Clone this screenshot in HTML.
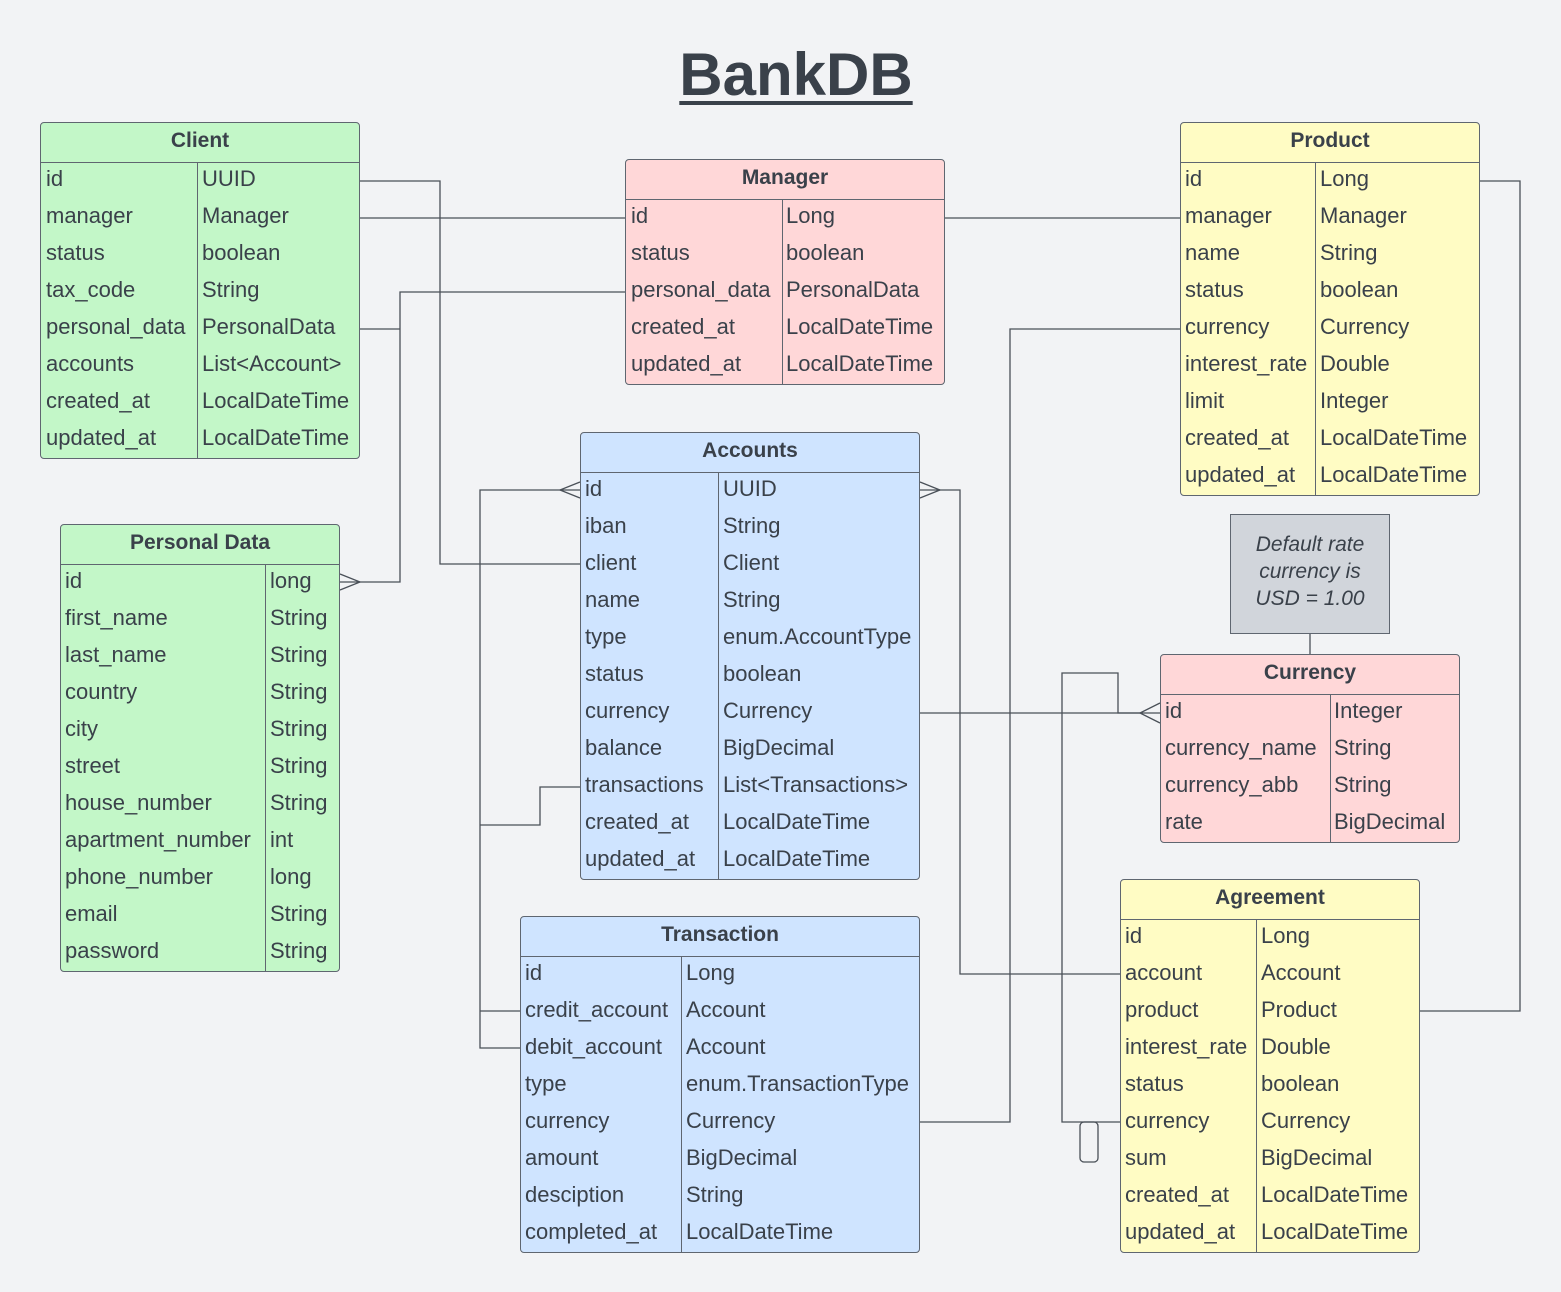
<!DOCTYPE html>
<html><head><meta charset="utf-8"><style>
body{margin:0;width:1561px;height:1292px;background:#f2f3f5;position:relative;overflow:hidden;font-family:"Liberation Sans",sans-serif;color:#3a414a}
.t{position:absolute;border:1px solid #5f6670;border-radius:4px;box-sizing:border-box;overflow:hidden}
.h{height:40px;line-height:35px;text-align:center;font-weight:bold;font-size:21px;border-bottom:1px solid #5f6670;box-sizing:border-box}
.r{height:37px;line-height:31px;font-size:22px;position:relative;white-space:nowrap}
.r span{position:absolute;top:0}
.d{position:absolute;top:40px;bottom:0;width:1px;background:#5f6670}
.g{background:#c3f7c8}.p{background:#ffd7d8}.y{background:#fffcc4}.b{background:#cfe4ff}
h1{position:absolute;left:0;width:1592px;top:40px;margin:0;text-align:center;font-size:60px;font-weight:bold;text-decoration:underline;text-decoration-thickness:4px;text-underline-offset:6px}
.note{position:absolute;left:1230px;top:514px;width:160px;height:120px;background:#d1d5db;border:1px solid #5f6670;box-sizing:border-box;font-style:italic;font-size:21px;text-align:center;line-height:27px;padding-top:16px}
svg{position:absolute;left:0;top:0}
</style></head><body>
<h1>BankDB</h1>
<svg width="1561" height="1292" fill="none" stroke="#4a5058" stroke-width="1.3">
<polyline points="360,181 440,181 440,564 580,564"/>
<polyline points="360,218 625,218"/>
<polyline points="945,218 1180,218"/>
<polyline points="625,292 400,292 400,582 340,582"/>
<polyline points="360,329 400,329"/>
<polyline points="340,574 360,582 340,590"/>
<polyline points="1480,181 1520,181 1520,1011 1420,1011"/>
<polyline points="1180,329 1010,329 1010,1122 920,1122"/>
<polyline points="920,713 1160,713"/>
<polyline points="1160,703 1140,713 1160,723"/>
<polyline points="580,490 480,490 480,1048 520,1048"/>
<polyline points="480,1011 520,1011"/>
<polyline points="580,482 560,490 580,498"/>
<polyline points="580,787 540,787 540,825 480,825"/>
<polyline points="920,482 940,490 920,498"/>
<polyline points="920,490 960,490 960,974 1120,974"/>
<polyline points="1120,1122 1062,1122 1062,673 1118,673 1118,713 1140,713"/>
<rect x="1080" y="1122" width="18" height="40" rx="4"/>
<line x1="1310" y1="634" x2="1310" y2="654"/>
</svg>

<div class="t g" style="left:40px;top:122px;width:320px;height:337px"><div class="h">Client</div><div class="d" style="left:156px"></div>
<div class="r"><span style="left:5px">id</span><span style="left:161px">UUID</span></div>
<div class="r"><span style="left:5px">manager</span><span style="left:161px">Manager</span></div>
<div class="r"><span style="left:5px">status</span><span style="left:161px">boolean</span></div>
<div class="r"><span style="left:5px">tax_code</span><span style="left:161px">String</span></div>
<div class="r"><span style="left:5px">personal_data</span><span style="left:161px">PersonalData</span></div>
<div class="r"><span style="left:5px">accounts</span><span style="left:161px">List&lt;Account&gt;</span></div>
<div class="r"><span style="left:5px">created_at</span><span style="left:161px">LocalDateTime</span></div>
<div class="r"><span style="left:5px">updated_at</span><span style="left:161px">LocalDateTime</span></div></div>

<div class="t p" style="left:625px;top:159px;width:320px;height:226px"><div class="h">Manager</div><div class="d" style="left:156px"></div>
<div class="r"><span style="left:5px">id</span><span style="left:160px">Long</span></div>
<div class="r"><span style="left:5px">status</span><span style="left:160px">boolean</span></div>
<div class="r"><span style="left:5px">personal_data</span><span style="left:160px">PersonalData</span></div>
<div class="r"><span style="left:5px">created_at</span><span style="left:160px">LocalDateTime</span></div>
<div class="r"><span style="left:5px">updated_at</span><span style="left:160px">LocalDateTime</span></div></div>

<div class="t y" style="left:1180px;top:122px;width:300px;height:374px"><div class="h">Product</div><div class="d" style="left:134px"></div>
<div class="r"><span style="left:4px">id</span><span style="left:139px">Long</span></div>
<div class="r"><span style="left:4px">manager</span><span style="left:139px">Manager</span></div>
<div class="r"><span style="left:4px">name</span><span style="left:139px">String</span></div>
<div class="r"><span style="left:4px">status</span><span style="left:139px">boolean</span></div>
<div class="r"><span style="left:4px">currency</span><span style="left:139px">Currency</span></div>
<div class="r"><span style="left:4px">interest_rate</span><span style="left:139px">Double</span></div>
<div class="r"><span style="left:4px">limit</span><span style="left:139px">Integer</span></div>
<div class="r"><span style="left:4px">created_at</span><span style="left:139px">LocalDateTime</span></div>
<div class="r"><span style="left:4px">updated_at</span><span style="left:139px">LocalDateTime</span></div></div>

<div class="t g" style="left:60px;top:524px;width:280px;height:448px"><div class="h">Personal Data</div><div class="d" style="left:204px"></div>
<div class="r"><span style="left:4px">id</span><span style="left:209px">long</span></div>
<div class="r"><span style="left:4px">first_name</span><span style="left:209px">String</span></div>
<div class="r"><span style="left:4px">last_name</span><span style="left:209px">String</span></div>
<div class="r"><span style="left:4px">country</span><span style="left:209px">String</span></div>
<div class="r"><span style="left:4px">city</span><span style="left:209px">String</span></div>
<div class="r"><span style="left:4px">street</span><span style="left:209px">String</span></div>
<div class="r"><span style="left:4px">house_number</span><span style="left:209px">String</span></div>
<div class="r"><span style="left:4px">apartment_number</span><span style="left:209px">int</span></div>
<div class="r"><span style="left:4px">phone_number</span><span style="left:209px">long</span></div>
<div class="r"><span style="left:4px">email</span><span style="left:209px">String</span></div>
<div class="r"><span style="left:4px">password</span><span style="left:209px">String</span></div></div>

<div class="t b" style="left:580px;top:432px;width:340px;height:448px"><div class="h">Accounts</div><div class="d" style="left:137px"></div>
<div class="r"><span style="left:4px">id</span><span style="left:142px">UUID</span></div>
<div class="r"><span style="left:4px">iban</span><span style="left:142px">String</span></div>
<div class="r"><span style="left:4px">client</span><span style="left:142px">Client</span></div>
<div class="r"><span style="left:4px">name</span><span style="left:142px">String</span></div>
<div class="r"><span style="left:4px">type</span><span style="left:142px">enum.AccountType</span></div>
<div class="r"><span style="left:4px">status</span><span style="left:142px">boolean</span></div>
<div class="r"><span style="left:4px">currency</span><span style="left:142px">Currency</span></div>
<div class="r"><span style="left:4px">balance</span><span style="left:142px">BigDecimal</span></div>
<div class="r"><span style="left:4px">transactions</span><span style="left:142px">List&lt;Transactions&gt;</span></div>
<div class="r"><span style="left:4px">created_at</span><span style="left:142px">LocalDateTime</span></div>
<div class="r"><span style="left:4px">updated_at</span><span style="left:142px">LocalDateTime</span></div></div>

<div class="t b" style="left:520px;top:916px;width:400px;height:337px"><div class="h">Transaction</div><div class="d" style="left:160px"></div>
<div class="r"><span style="left:4px">id</span><span style="left:165px">Long</span></div>
<div class="r"><span style="left:4px">credit_account</span><span style="left:165px">Account</span></div>
<div class="r"><span style="left:4px">debit_account</span><span style="left:165px">Account</span></div>
<div class="r"><span style="left:4px">type</span><span style="left:165px">enum.TransactionType</span></div>
<div class="r"><span style="left:4px">currency</span><span style="left:165px">Currency</span></div>
<div class="r"><span style="left:4px">amount</span><span style="left:165px">BigDecimal</span></div>
<div class="r"><span style="left:4px">desciption</span><span style="left:165px">String</span></div>
<div class="r"><span style="left:4px">completed_at</span><span style="left:165px">LocalDateTime</span></div></div>

<div class="note">Default rate<br>currency is<br>USD = 1.00</div>

<div class="t p" style="left:1160px;top:654px;width:300px;height:189px"><div class="h">Currency</div><div class="d" style="left:169px"></div>
<div class="r"><span style="left:4px">id</span><span style="left:173px">Integer</span></div>
<div class="r"><span style="left:4px">currency_name</span><span style="left:173px">String</span></div>
<div class="r"><span style="left:4px">currency_abb</span><span style="left:173px">String</span></div>
<div class="r"><span style="left:4px">rate</span><span style="left:173px">BigDecimal</span></div></div>

<div class="t y" style="left:1120px;top:879px;width:300px;height:374px"><div class="h">Agreement</div><div class="d" style="left:135px"></div>
<div class="r"><span style="left:4px">id</span><span style="left:140px">Long</span></div>
<div class="r"><span style="left:4px">account</span><span style="left:140px">Account</span></div>
<div class="r"><span style="left:4px">product</span><span style="left:140px">Product</span></div>
<div class="r"><span style="left:4px">interest_rate</span><span style="left:140px">Double</span></div>
<div class="r"><span style="left:4px">status</span><span style="left:140px">boolean</span></div>
<div class="r"><span style="left:4px">currency</span><span style="left:140px">Currency</span></div>
<div class="r"><span style="left:4px">sum</span><span style="left:140px">BigDecimal</span></div>
<div class="r"><span style="left:4px">created_at</span><span style="left:140px">LocalDateTime</span></div>
<div class="r"><span style="left:4px">updated_at</span><span style="left:140px">LocalDateTime</span></div></div>
</body></html>
